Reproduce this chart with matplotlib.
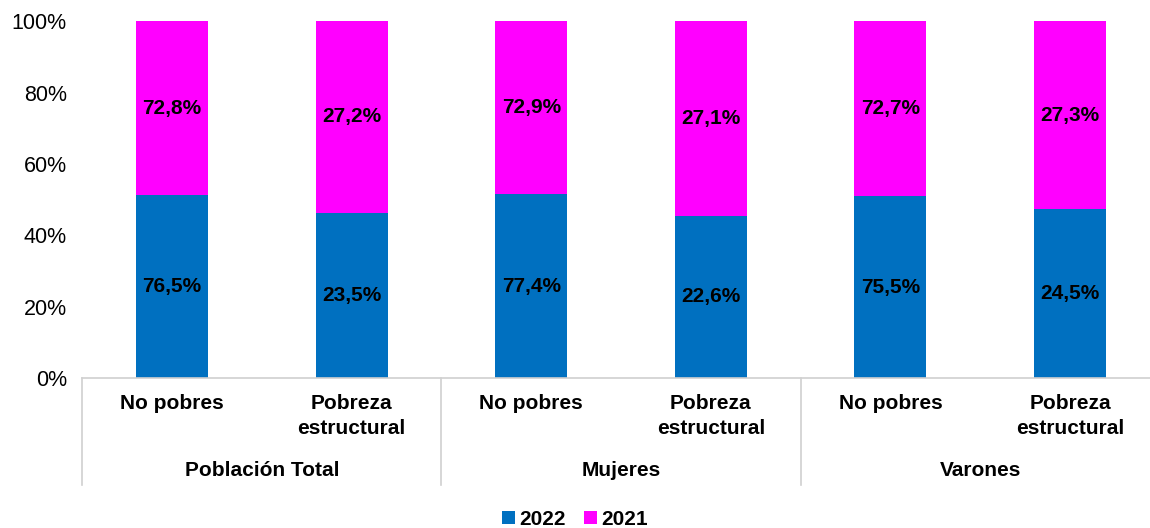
import numpy as np
import matplotlib.pyplot as plt
from matplotlib.transforms import blended_transform_factory

plt.rcParams['font.family'] = ['Liberation Sans', 'DejaVu Sans']

# data
groups = ['Población Total', 'Mujeres', 'Varones']
categories = ['No pobres', 'Pobreza\nestructural'] * 3
vals_2022 = [76.5, 23.5, 77.4, 22.6, 75.5, 24.5]
vals_2021 = [72.8, 27.2, 72.9, 27.1, 72.7, 27.3]

blue = '#0070C0'
magenta = '#FF00FF'

a = np.array(vals_2022)
b = np.array(vals_2021)
tot = a + b
sa = a / tot * 100
sb = b / tot * 100
x = np.arange(len(categories))

fig = plt.figure(figsize=(11.5, 5.28), dpi=100)
ax = fig.add_axes([0.0715, 0.284, 0.937, 0.676])

ax.bar(x, sa, width=0.4, color=blue, label='2022')
ax.bar(x, sb, width=0.4, bottom=sa, color=magenta, label='2021')

fs = 15
for i in range(len(x)):
    ax.text(x[i], sa[i] / 2, f'{vals_2022[i]:.1f}%'.replace('.', ','),
            ha='center', va='center', fontsize=fs, fontweight='bold')
    ax.text(x[i], sa[i] + sb[i] / 2, f'{vals_2021[i]:.1f}%'.replace('.', ','),
            ha='center', va='center', fontsize=fs, fontweight='bold')

ax.set_xlim(-0.5, len(x) - 0.5)
ax.set_ylim(0, 100)
ax.set_yticks(range(0, 101, 20))
ax.set_yticklabels([f'{v}%' for v in range(0, 101, 20)], fontsize=15.5)
ax.tick_params(axis='y', length=0, pad=11)
ax.set_xticks([])
for s in ['top', 'right', 'left']:
    ax.spines[s].set_visible(False)
ax.spines['bottom'].set_color('#d0d0d0')
ax.spines['bottom'].set_linewidth(1.2)

trans = blended_transform_factory(ax.transData, ax.transAxes)
for i, c in enumerate(categories):
    ax.text(x[i], -0.045, c, transform=trans, ha='center', va='top',
            fontsize=fs, fontweight='bold', linespacing=1.4)
for g, name in enumerate(groups):
    ax.text(2 * g + 0.5, -0.258, name, transform=trans, ha='center', va='center',
            fontsize=fs, fontweight='bold')
for k in range(4):
    ax.plot([2 * k - 0.5, 2 * k - 0.5], [0, -0.30], transform=trans,
            color='#d0d0d0', lw=1.2, clip_on=False)

fig.legend(loc='lower center', bbox_to_anchor=(0.5, -0.037), ncol=2, frameon=False,
           prop={'size': fs, 'weight': 'bold'}, handlelength=0.6, handleheight=0.6,
           handletextpad=0.2, columnspacing=0.9)

fig.savefig('out.png', dpi=100)
